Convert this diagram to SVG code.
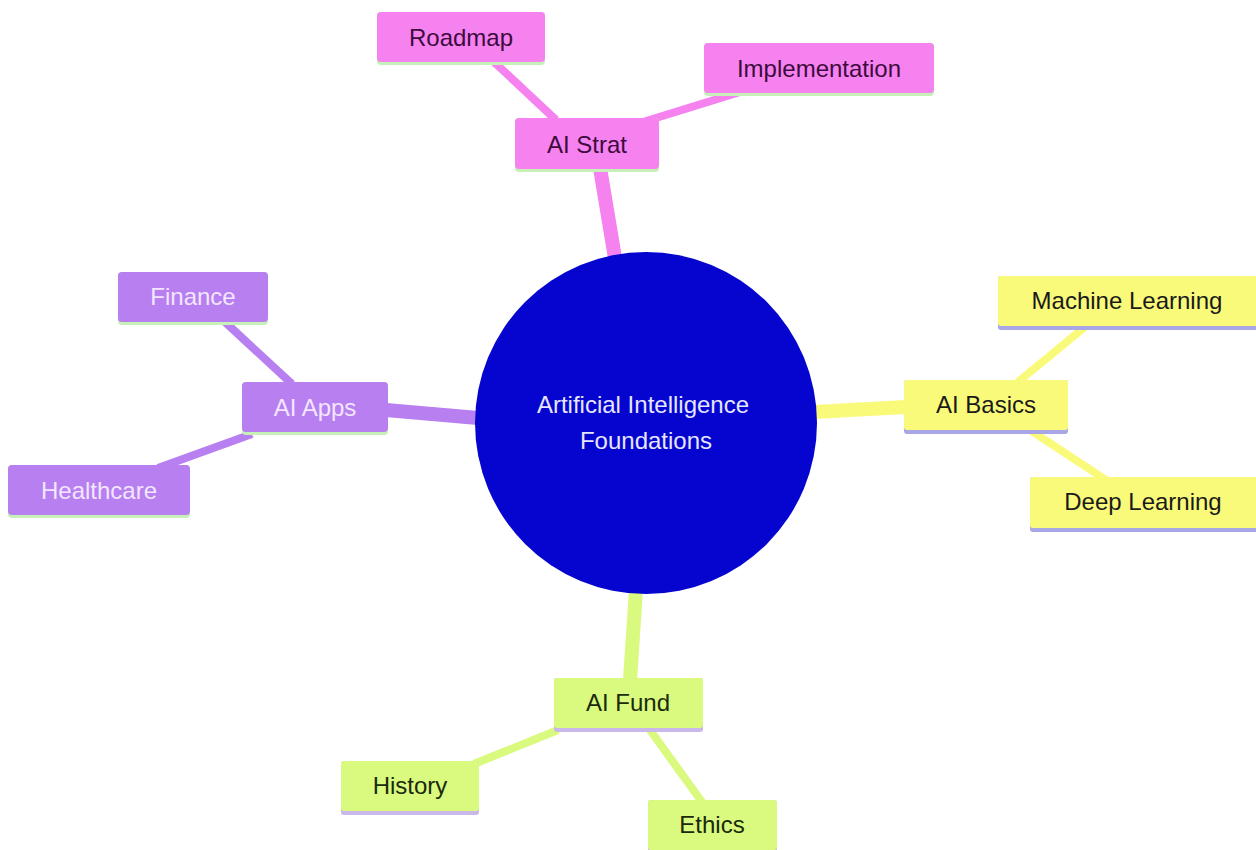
<svg xmlns="http://www.w3.org/2000/svg" width="1256" height="850" viewBox="0 0 1256 850">
<style>
text{font-family:"Liberation Sans",Arial,sans-serif;font-size:24px;text-anchor:middle}
.pink rect.b{fill:#f582ef}
.pink rect.u,.purple rect.u{fill:#c6f0b8}
.pink text{fill:#3d0b3d}
.purple rect.b{fill:#b77ff0}
.purple text{fill:#f3e6ff}
.yellow rect.b{fill:#fafa7a}
.yellow rect.u{fill:#a9a6e6}
.yellow text{fill:#1a1a1a}
.green rect.b{fill:#d9f97f}
.green rect.u{fill:#cbb8ea}
.green text{fill:#1a2a0a}
.main{stroke-linecap:butt;stroke-width:14;fill:none}
.sub{stroke-linecap:butt;stroke-width:8;fill:none}
</style>
<rect width="1256" height="850" fill="#ffffff"/>
<g id="connectors">
<line class="main" x1="600" y1="168" x2="615" y2="258" stroke="#f582ef"/>
<line class="sub" x1="492" y1="60" x2="556" y2="120" stroke="#f582ef"/>
<line class="sub" x1="740" y1="92" x2="630" y2="126" stroke="#f582ef"/>
<line class="main" x1="814" y1="412" x2="906" y2="407" stroke="#fafa7a"/>
<line class="sub" x1="1086" y1="326" x2="1018" y2="382" stroke="#fafa7a"/>
<line class="sub" x1="1030" y1="430" x2="1106" y2="480" stroke="#fafa7a"/>
<line class="main" x1="386" y1="410" x2="478" y2="418" stroke="#b77ff0"/>
<line class="sub" x1="225" y1="322" x2="292" y2="384" stroke="#b77ff0"/>
<line class="sub" x1="252" y1="434" x2="158" y2="468" stroke="#b77ff0"/>
<line class="main" x1="636" y1="590" x2="630" y2="680" stroke="#d9f97f"/>
<line class="sub" x1="558" y1="730" x2="474" y2="764" stroke="#d9f97f"/>
<line class="sub" x1="650" y1="730" x2="702" y2="802" stroke="#d9f97f"/>
</g>
<g id="root">
<circle cx="646" cy="423" r="171" fill="#0505cf"/>
<text x="643" y="413" fill="#e6e6ff">Artificial Intelligence</text>
<text x="646" y="449" fill="#e6e6ff">Foundations</text>
</g>
<g id="ai-strat" class="pink"><rect class="u" x="515" y="118" width="144" height="54" rx="4"/><rect class="b" x="515" y="118" width="144" height="51" rx="4"/><text x="587" y="153">AI Strat</text></g>
<g id="roadmap" class="pink"><rect class="u" x="377" y="12" width="168" height="53" rx="4"/><rect class="b" x="377" y="12" width="168" height="50" rx="4"/><text x="461" y="46">Roadmap</text></g>
<g id="implementation" class="pink"><rect class="u" x="704" y="43" width="230" height="53" rx="4"/><rect class="b" x="704" y="43" width="230" height="50" rx="4"/><text x="819" y="77">Implementation</text></g>
<g id="ai-basics" class="yellow"><rect class="u" x="904" y="380" width="164" height="54" rx="3"/><rect class="b" x="904" y="380" width="164" height="50" rx="3"/><text x="986" y="413">AI Basics</text></g>
<g id="machine-learning" class="yellow"><rect class="u" x="998" y="276" width="262" height="54" rx="3"/><rect class="b" x="998" y="276" width="262" height="50" rx="3"/><text x="1127" y="309">Machine Learning</text></g>
<g id="deep-learning" class="yellow"><rect class="u" x="1030" y="477" width="230" height="55" rx="3"/><rect class="b" x="1030" y="477" width="230" height="51" rx="3"/><text x="1143" y="510">Deep Learning</text></g>
<g id="ai-apps" class="purple"><rect class="u" x="242" y="382" width="146" height="53" rx="4"/><rect class="b" x="242" y="382" width="146" height="50" rx="4"/><text x="315" y="416">AI Apps</text></g>
<g id="finance" class="purple"><rect class="u" x="118" y="272" width="150" height="53" rx="4"/><rect class="b" x="118" y="272" width="150" height="50" rx="4"/><text x="193" y="305">Finance</text></g>
<g id="healthcare" class="purple"><rect class="u" x="8" y="465" width="182" height="53" rx="4"/><rect class="b" x="8" y="465" width="182" height="50" rx="4"/><text x="99" y="499">Healthcare</text></g>
<g id="ai-fund" class="green"><rect class="u" x="554" y="678" width="149" height="54" rx="3"/><rect class="b" x="554" y="678" width="149" height="50" rx="3"/><text x="628" y="711">AI Fund</text></g>
<g id="history" class="green"><rect class="u" x="341" y="761" width="138" height="54" rx="3"/><rect class="b" x="341" y="761" width="138" height="50" rx="3"/><text x="410" y="794">History</text></g>
<g id="ethics" class="green"><rect class="u" x="648" y="800" width="129" height="54" rx="3"/><rect class="b" x="648" y="800" width="129" height="50" rx="3"/><text x="712" y="833">Ethics</text></g>
</svg>
